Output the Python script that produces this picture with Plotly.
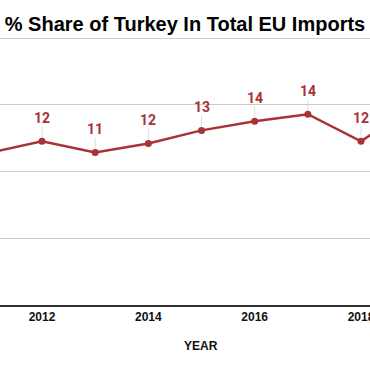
import plotly.graph_objects as go

years = [2011, 2012, 2013, 2014, 2015, 2016, 2017, 2018, 2019]
share = [11.4, 12.26, 11.43, 12.1, 13.08, 13.76, 14.29, 12.26, 14.9]
labels = [str(round(v)) for v in share]
x_ticks = [2012, 2014, 2016, 2018]

RED = "#a83236"

fig = go.Figure()
fig.add_trace(go.Scatter(
    x=years, y=share, mode="lines+markers",
    line=dict(color=RED, width=2.5),
    marker=dict(color=RED, size=7),
    hoverinfo="skip", showlegend=False,
))

shapes = []
annotations = []
for x, y, t in zip(years, share, labels):
    shapes.append(dict(type="line", xref="x", yref="y", ysizemode="pixel",
                       yanchor=y, x0=x, x1=x, y0=4, y1=15,
                       line=dict(color="#dddddd", width=1), layer="below"))
    annotations.append(dict(x=x, y=y, xref="x", yref="y", text=t,
                            showarrow=False, yshift=23,
                            font=dict(family="Roboto", size=14, color=RED, weight="bold")))

W, H = 370, 371
T, B = 30, 66
plot_w = W
plot_h = H - T - B

annotations.append(dict(x=201 / plot_w, y=(H - B - 346) / plot_h, xref="paper", yref="paper",
                        text="YEAR", showarrow=False, xanchor="center", yanchor="middle",
                        font=dict(family="Liberation Sans", size=12, color="#111", weight="bold")))

fig.update_layout(
    width=W, height=H, autosize=False,
    margin=dict(l=0, r=0, t=T, b=B, autoexpand=False),
    paper_bgcolor="white", plot_bgcolor="white",
    title=dict(text="% Share of Turkey In Total EU Imports", x=0.5, xanchor="center",
               y=1 - 24 / H, yanchor="middle",
               font=dict(family="Liberation Sans", size=20, color="#000", weight="bold")),
    xaxis=dict(range=[2011.21, 2018.169], tickvals=x_ticks, ticktext=[str(v) for v in x_ticks],
               showgrid=False, zeroline=False, showline=True, linecolor="#333", linewidth=1.5,
               ticks="", ticklabeloverflow="allow", automargin=False,
               tickfont=dict(family="Liberation Sans", size=12, color="#111", weight="bold")),
    yaxis=dict(range=[0, 20.6], tickvals=[5, 10, 15, 20], showticklabels=False, automargin=False,
               showgrid=True, gridcolor="#cccccc", gridwidth=1, zeroline=False),
    shapes=shapes,
    annotations=annotations,
)

fig.write_html("out.html", config={"displayModeBar": False},
               post_script="document.body.style.margin='0';document.body.style.overflow='hidden';")
